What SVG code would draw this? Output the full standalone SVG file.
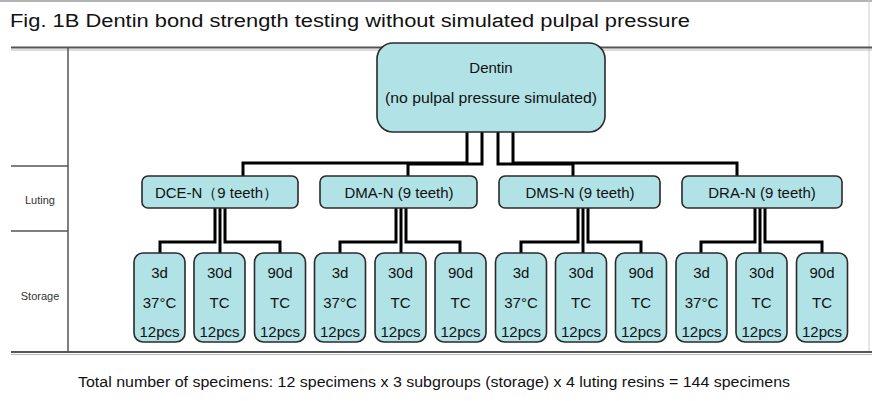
<svg xmlns="http://www.w3.org/2000/svg" width="872" height="401" viewBox="0 0 872 401">
<style>
  .t{font-family:"Liberation Sans",Arial,sans-serif;fill:#111}
  .box{fill:#b0e2e6;stroke:#2a2a2a;stroke-width:1.6}
  .c{fill:none;stroke:#000;stroke-width:3;stroke-linejoin:miter}
  .rule{stroke:#555;stroke-width:1.5}
  .s{font-size:15px;text-anchor:middle}
  .l{font-size:15px;text-anchor:middle}
  .row{font-size:11px;text-anchor:middle;fill:#333}
</style>
<rect width="872" height="401" fill="#fff"/>
<!-- frame -->
<g id="frame">
  <line x1="0" y1="1" x2="872" y2="1" stroke="#999" stroke-width="1.5"/>
  <line x1="869" y1="0" x2="869" y2="353" stroke="#ccc" stroke-width="1"/>
  <line x1="11" y1="47.5" x2="872" y2="47.5" stroke="#555" stroke-width="2"/>
  <line x1="11" y1="50" x2="872" y2="50" stroke="#bbb" stroke-width="1"/>
  <line x1="11" y1="352" x2="872" y2="352" stroke="#555" stroke-width="2"/>
  <line x1="11" y1="354.5" x2="872" y2="354.5" stroke="#bbb" stroke-width="1"/>
  <line x1="68" y1="48" x2="68" y2="352" class="rule"/>
  <line x1="11" y1="166" x2="68" y2="166" class="rule"/>
  <line x1="11" y1="231" x2="68" y2="231" class="rule"/>
  <text class="t row" x="40" y="204">Luting</text>
  <text class="t row" x="40" y="300">Storage</text>
</g>
<text class="t" x="10" y="27" font-size="18" textLength="680" lengthAdjust="spacingAndGlyphs">Fig. 1B Dentin bond strength testing without simulated pulpal pressure</text>

<!-- connectors -->
<g id="connectors">
  <path class="c" d="M467,132 V163 H243 V176"/>
  <path class="c" d="M482,132 V164 H408 V176"/>
  <path class="c" d="M498,132 V164 H573 V176"/>
  <path class="c" d="M513,132 V163 H737 V176"/>

  <path class="c" d="M215,208 V242 H160 V253"/>
  <path class="c" d="M220,208 V253"/>
  <path class="c" d="M225,208 V242 H280 V253"/>

  <path class="c" d="M396,208 V242 H340 V253"/>
  <path class="c" d="M401,208 V253"/>
  <path class="c" d="M406,208 V242 H460 V253"/>

  <path class="c" d="M578,208 V242 H521 V253"/>
  <path class="c" d="M583,208 V253"/>
  <path class="c" d="M588,208 V242 H641 V253"/>

  <path class="c" d="M755,208 V242 H701 V253"/>
  <path class="c" d="M760,208 V253"/>
  <path class="c" d="M765,208 V242 H822 V253"/>
</g>

<!-- root -->
<g id="dentin">
  <rect class="box" x="377" y="43" width="228" height="89" rx="16"/>
  <text class="t" x="491" y="73" font-size="15" text-anchor="middle">Dentin</text>
  <text class="t" x="385" y="103" font-size="15" textLength="212" lengthAdjust="spacingAndGlyphs">(no pulpal pressure simulated)</text>
</g>

<!-- luting -->
<g id="dce-n">
  <rect class="box" x="142" y="176" width="156" height="32" rx="6"/>
  <text class="t" x="155" y="198" font-size="15" textLength="123" lengthAdjust="spacingAndGlyphs">DCE-N（9 teeth）</text>
</g>
<g id="dma-n">
  <rect class="box" x="320" y="176" width="157" height="32" rx="6"/>
  <text class="t l" x="399" y="198">DMA-N (9 teeth)</text>
</g>
<g id="dms-n">
  <rect class="box" x="499" y="176" width="161" height="32" rx="6"/>
  <text class="t l" x="580" y="198">DMS-N (9 teeth)</text>
</g>
<g id="dra-n">
  <rect class="box" x="682" y="176" width="160" height="32" rx="6"/>
  <text class="t l" x="762" y="198">DRA-N (9 teeth)</text>
</g>

<!-- storage -->
<g id="dce-3d"><rect class="box" x="134" y="253" width="51" height="89" rx="9"/><text class="t s" x="159.5" y="278">3d</text><text class="t s" x="159.5" y="308">37°C</text><text class="t s" x="159.5" y="337">12pcs</text></g>
<g id="dce-30d"><rect class="box" x="194" y="253" width="51" height="89" rx="9"/><text class="t s" x="219.5" y="278">30d</text><text class="t s" x="219.5" y="308">TC</text><text class="t s" x="219.5" y="337">12pcs</text></g>
<g id="dce-90d"><rect class="box" x="254.5" y="253" width="51" height="89" rx="9"/><text class="t s" x="280" y="278">90d</text><text class="t s" x="280" y="308">TC</text><text class="t s" x="280" y="337">12pcs</text></g>

<g id="dma-3d"><rect class="box" x="314.5" y="253" width="51" height="89" rx="9"/><text class="t s" x="340" y="278">3d</text><text class="t s" x="340" y="308">37°C</text><text class="t s" x="340" y="337">12pcs</text></g>
<g id="dma-30d"><rect class="box" x="375" y="253" width="51" height="89" rx="9"/><text class="t s" x="400.5" y="278">30d</text><text class="t s" x="400.5" y="308">TC</text><text class="t s" x="400.5" y="337">12pcs</text></g>
<g id="dma-90d"><rect class="box" x="435" y="253" width="51" height="89" rx="9"/><text class="t s" x="460.5" y="278">90d</text><text class="t s" x="460.5" y="308">TC</text><text class="t s" x="460.5" y="337">12pcs</text></g>

<g id="dms-3d"><rect class="box" x="495.5" y="253" width="51" height="89" rx="9"/><text class="t s" x="521" y="278">3d</text><text class="t s" x="521" y="308">37°C</text><text class="t s" x="521" y="337">12pcs</text></g>
<g id="dms-30d"><rect class="box" x="555.5" y="253" width="51" height="89" rx="9"/><text class="t s" x="581" y="278">30d</text><text class="t s" x="581" y="308">TC</text><text class="t s" x="581" y="337">12pcs</text></g>
<g id="dms-90d"><rect class="box" x="615.5" y="253" width="51" height="89" rx="9"/><text class="t s" x="641" y="278">90d</text><text class="t s" x="641" y="308">TC</text><text class="t s" x="641" y="337">12pcs</text></g>

<g id="dra-3d"><rect class="box" x="676" y="253" width="51" height="89" rx="9"/><text class="t s" x="701.5" y="278">3d</text><text class="t s" x="701.5" y="308">37°C</text><text class="t s" x="701.5" y="337">12pcs</text></g>
<g id="dra-30d"><rect class="box" x="736" y="253" width="51" height="89" rx="9"/><text class="t s" x="761.5" y="278">30d</text><text class="t s" x="761.5" y="308">TC</text><text class="t s" x="761.5" y="337">12pcs</text></g>
<g id="dra-90d"><rect class="box" x="796.5" y="253" width="51" height="89" rx="9"/><text class="t s" x="822" y="278">90d</text><text class="t s" x="822" y="308">TC</text><text class="t s" x="822" y="337">12pcs</text></g>

<text class="t" x="78" y="387" font-size="14" textLength="712" lengthAdjust="spacingAndGlyphs">Total number of specimens: 12 specimens x 3 subgroups (storage) x 4 luting resins = 144 specimens</text>
</svg>
